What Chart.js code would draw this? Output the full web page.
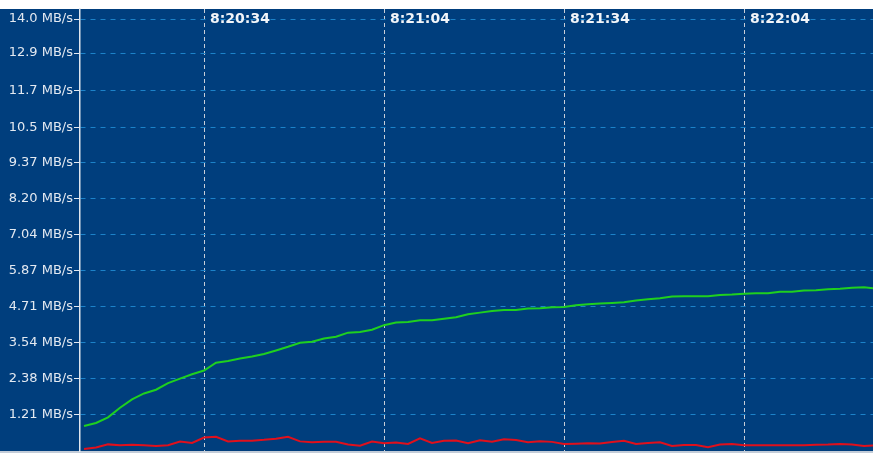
<!DOCTYPE html>
<html><head><meta charset="utf-8">
<script src="https://cdn.jsdelivr.net/npm/chart.js@4/dist/chart.umd.min.js"></script>
<style>html,body{margin:0;padding:0;background:#fff;overflow:hidden}#wrap{width:873px;height:456px}</style>
</head><body><div id="wrap"><canvas id="c" width="873" height="456"></canvas></div>
<script>
const times = [
 '8:20:14','8:20:16','8:20:18','8:20:20','8:20:22','8:20:24','8:20:26','8:20:28','8:20:30','8:20:32',
 '8:20:34','8:20:36','8:20:38','8:20:40','8:20:42','8:20:44','8:20:46','8:20:48','8:20:50','8:20:52',
 '8:20:54','8:20:56','8:20:58','8:21:00','8:21:02','8:21:04','8:21:06','8:21:08','8:21:10','8:21:12',
 '8:21:14','8:21:16','8:21:18','8:21:20','8:21:22','8:21:24','8:21:26','8:21:28','8:21:30','8:21:32',
 '8:21:34','8:21:36','8:21:38','8:21:40','8:21:42','8:21:44','8:21:46','8:21:48','8:21:50','8:21:52',
 '8:21:54','8:21:56','8:21:58','8:22:00','8:22:02','8:22:04','8:22:06','8:22:08','8:22:10','8:22:12',
 '8:22:14','8:22:16','8:22:18','8:22:20','8:22:22','8:22:24','8:22:26'
];
const greenRate = [
 0.850,0.944,1.126,1.437,1.706,1.900,2.020,2.234,2.377,2.519,
 2.642,2.895,2.947,3.028,3.096,3.174,3.287,3.407,3.540,3.572,
 3.676,3.731,3.864,3.883,3.961,4.107,4.191,4.211,4.263,4.269,
 4.311,4.360,4.457,4.512,4.567,4.600,4.600,4.642,4.652,4.687,
 4.697,4.749,4.784,4.804,4.826,4.846,4.907,4.943,4.976,5.034,
 5.040,5.040,5.040,5.079,5.095,5.125,5.138,5.138,5.183,5.186,
 5.225,5.235,5.270,5.280,5.319,5.332,5.290
];
const redRate = [
 0.105,0.153,0.254,0.225,0.238,0.225,0.205,0.225,0.345,0.299,
 0.477,0.500,0.351,0.374,0.374,0.400,0.435,0.497,0.351,0.322,
 0.338,0.341,0.251,0.212,0.348,0.290,0.315,0.267,0.450,0.302,
 0.371,0.377,0.293,0.387,0.338,0.419,0.393,0.325,0.358,0.335,
 0.267,0.277,0.290,0.280,0.332,0.374,0.267,0.302,0.325,0.205,
 0.234,0.234,0.160,0.247,0.267,0.225,0.225,0.225,0.225,0.225,
 0.225,0.244,0.247,0.267,0.251,0.202,0.225
];
const xTickLabels = ['8:20:34','8:21:04','8:21:34','8:22:04'];
const yTickLabels = ['1.21','2.38','3.54','4.71','5.87','7.04','8.20','9.37','10.5','11.7','12.9','14.0'];
const unit = 'MB/s';

function toSec(s){const p=s.split(':').map(Number);return p[0]*3600+p[1]*60+p[2];}

const bgPlugin = {
  id:'bg',
  beforeDraw(chart){
    const {ctx, chartArea:a, width} = chart;
    ctx.save();
    ctx.fillStyle = '#003e7d';
    ctx.fillRect(0, a.top, width, a.bottom - a.top);
    ctx.fillStyle = '#c3ccd8';
    ctx.fillRect(0, a.bottom, width, 2);
    ctx.restore();
  }
};
const xLabelPlugin = {
  id:'xlabels',
  afterDraw(chart){
    const {ctx, chartArea:a} = chart;
    const xs = chart.scales.x;
    ctx.save();
    ctx.font = 'bold 14px "DejaVu Sans"';
    ctx.fillStyle = '#f2f5f9';
    ctx.textBaseline = 'middle';
    ctx.textAlign = 'left';
    xTickLabels.forEach(l => {
      const px = xs.getPixelForValue(toSec(l));
      ctx.fillText(l, px + 6, a.top + 10);
    });
    ctx.restore();
  }
};

new Chart(document.getElementById('c'), {
  type:'line',
  data:{
    datasets:[
      {data: times.map((t,i)=>({x:toSec(t), y:greenRate[i]})), borderColor:'#1fd01f', borderWidth:2, pointRadius:0, tension:0},
      {data: times.map((t,i)=>({x:toSec(t), y:redRate[i]})), borderColor:'#e0101c', borderWidth:2, pointRadius:0, tension:0}
    ]
  },
  options:{
    responsive:false, animation:false, devicePixelRatio:1,
    layout:{padding:{top:9,bottom:5,left:0,right:0}},
    plugins:{legend:{display:false}, tooltip:{enabled:false}},
    scales:{
      x:{
        type:'linear', min: toSec('8:20:34') - 20.67, max: toSec('8:22:04') + 21.5,
        afterBuildTicks: s => { s.ticks = xTickLabels.map(l => ({value: toSec(l)})); },
        afterFit: s => { s.height = 0; },
        ticks:{display:false},
        grid:{color:'#c8ced8', lineWidth:1, drawTicks:false},
        border:{display:false, dash:[4,3]}
      },
      y:{
        min:0.04, max:14.324,
        afterBuildTicks: s => { s.ticks = yTickLabels.map(l => ({value: parseFloat(l)})); },
        afterFit: s => { s.width = 80; s.paddingTop = 0; s.paddingBottom = 0; },
        ticks:{
          callback:(v,i) => yTickLabels[i] + ' ' + unit,
          color:'#e3e9f1', font:{family:'DejaVu Sans', size:13}, padding:1
        },
        grid:{color:'#1c82c9', lineWidth:1, tickColor:'#e3e9f1', tickLength:6, tickWidth:1, tickBorderDash:[6,0]},
        border:{display:true, color:'#e0e6ee', width:1.5, dash:[5,5]}
      }
    }
  },
  plugins:[bgPlugin, xLabelPlugin]
});
</script>
</body></html>
